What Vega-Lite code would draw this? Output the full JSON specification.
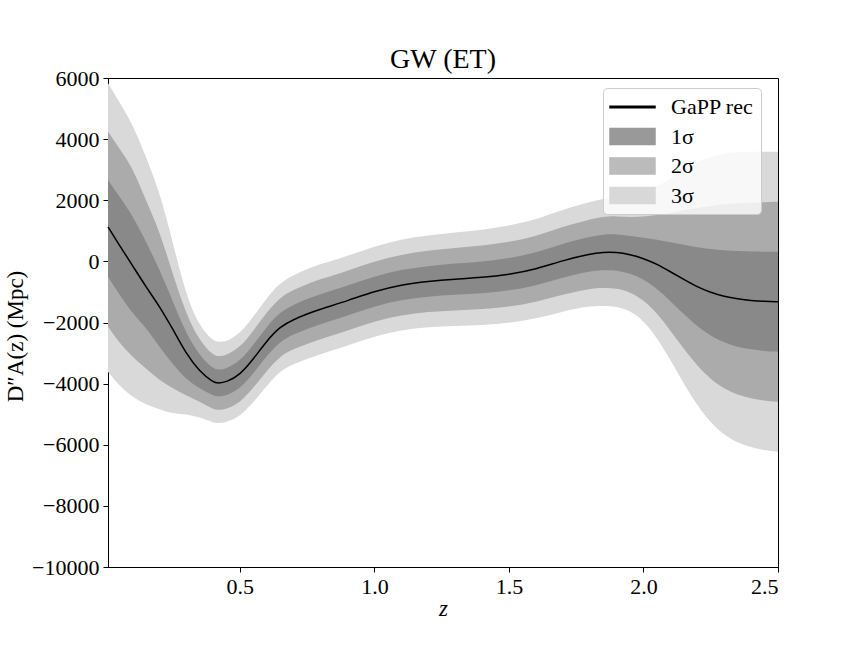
{
  "$schema": "https://vega.github.io/schema/vega-lite/v6.json",
  "width": 670,
  "height": 489,
  "autosize": {"type": "none"},
  "padding": {"left": 108, "top": 78, "right": 86, "bottom": 81},
  "background": "white",
  "title": {"text": "GW (ET)", "font": "Liberation Serif", "fontSize": 28, "fontWeight": "normal", "color": "black", "offset": -7},
  "config": {
    "view": {"stroke": "black", "strokeWidth": 1},
    "axis": {
      "labelFont": "Liberation Serif", "labelFontSize": 22, "labelColor": "black",
      "titleFont": "Liberation Serif", "titleFontSize": 23, "titleFontWeight": "normal", "titleColor": "black",
      "grid": false, "domainColor": "black", "tickColor": "black", "tickSize": 5, "labelPadding": 4
    }
  },
  "data": {
    "values": [
      {"z": 0.01, "m": 1130, "l3": -3610, "l2": -2130, "l1": -500, "h1": 2665, "h2": 4245, "h3": 5830},
      {"z": 0.05, "m": 560, "l3": -4050, "l2": -2650, "l1": -1050, "h1": 2150, "h2": 3720, "h3": 5250},
      {"z": 0.1, "m": -120, "l3": -4440, "l2": -3120, "l1": -1700, "h1": 1520, "h2": 3100, "h3": 4520},
      {"z": 0.15, "m": -820, "l3": -4680, "l2": -3500, "l1": -2150, "h1": 660, "h2": 2000, "h3": 3440},
      {"z": 0.2, "m": -1450, "l3": -4840, "l2": -3880, "l1": -2790, "h1": -230, "h2": 1030, "h3": 2330},
      {"z": 0.25, "m": -2200, "l3": -4980, "l2": -4150, "l1": -3350, "h1": -1300, "h2": -400, "h3": 650},
      {"z": 0.3, "m": -3020, "l3": -5000, "l2": -4390, "l1": -3860, "h1": -2360, "h2": -1720, "h3": -1120},
      {"z": 0.35, "m": -3600, "l3": -5100, "l2": -4580, "l1": -4150, "h1": -3080, "h2": -2600, "h3": -2120},
      {"z": 0.4, "m": -3950, "l3": -5270, "l2": -4830, "l1": -4390, "h1": -3520, "h2": -3070, "h3": -2600},
      {"z": 0.42, "m": -3990, "l3": -5300, "l2": -4870, "l1": -4430, "h1": -3550, "h2": -3110, "h3": -2640},
      {"z": 0.45, "m": -3950, "l3": -5270, "l2": -4830, "l1": -4390, "h1": -3510, "h2": -3070, "h3": -2630},
      {"z": 0.5, "m": -3720, "l3": -5080, "l2": -4630, "l1": -4170, "h1": -3270, "h2": -2820, "h3": -2370},
      {"z": 0.55, "m": -3200, "l3": -4620, "l2": -4140, "l1": -3670, "h1": -2740, "h2": -2280, "h3": -1820},
      {"z": 0.6, "m": -2600, "l3": -4070, "l2": -3580, "l1": -3090, "h1": -2130, "h2": -1660, "h3": -1190},
      {"z": 0.65, "m": -2130, "l3": -3570, "l2": -3090, "l1": -2610, "h1": -1650, "h2": -1170, "h3": -690},
      {"z": 0.7, "m": -1900, "l3": -3355, "l2": -2870, "l1": -2385, "h1": -1415, "h2": -930, "h3": -445},
      {"z": 0.75, "m": -1720, "l3": -3190, "l2": -2700, "l1": -2210, "h1": -1230, "h2": -740, "h3": -250},
      {"z": 0.8, "m": -1560, "l3": -3030, "l2": -2540, "l1": -2050, "h1": -1070, "h2": -580, "h3": -90},
      {"z": 0.9, "m": -1290, "l3": -2760, "l2": -2270, "l1": -1780, "h1": -800, "h2": -310, "h3": 180},
      {"z": 1.0, "m": -980, "l3": -2450, "l2": -1960, "l1": -1470, "h1": -490, "h2": 0, "h3": 490},
      {"z": 1.1, "m": -760, "l3": -2245, "l2": -1750, "l1": -1255, "h1": -265, "h2": 230, "h3": 725},
      {"z": 1.2, "m": -650, "l3": -2150, "l2": -1650, "l1": -1150, "h1": -150, "h2": 350, "h3": 850},
      {"z": 1.3, "m": -580, "l3": -2110, "l2": -1600, "l1": -1090, "h1": -70, "h2": 440, "h3": 950},
      {"z": 1.4, "m": -530, "l3": -2090, "l2": -1570, "l1": -1050, "h1": -10, "h2": 510, "h3": 1030},
      {"z": 1.5, "m": -430, "l3": -2020, "l2": -1490, "l1": -960, "h1": 100, "h2": 630, "h3": 1160},
      {"z": 1.6, "m": -260, "l3": -1880, "l2": -1340, "l1": -800, "h1": 280, "h2": 820, "h3": 1360},
      {"z": 1.7, "m": 30, "l3": -1635, "l2": -1080, "l1": -525, "h1": 585, "h2": 1140, "h3": 1695},
      {"z": 1.8, "m": 240, "l3": -1455, "l2": -890, "l1": -325, "h1": 805, "h2": 1370, "h3": 1935},
      {"z": 1.85, "m": 300, "l3": -1455, "l2": -870, "l1": -285, "h1": 885, "h2": 1470, "h3": 2055},
      {"z": 1.9, "m": 300, "l3": -1470, "l2": -880, "l1": -290, "h1": 890, "h2": 1480, "h3": 2080},
      {"z": 1.95, "m": 220, "l3": -1610, "l2": -1000, "l1": -390, "h1": 830, "h2": 1440, "h3": 2120},
      {"z": 2.0, "m": 100, "l3": -1940, "l2": -1260, "l1": -580, "h1": 780, "h2": 1460, "h3": 2250},
      {"z": 2.05, "m": -90, "l3": -2490, "l2": -1690, "l1": -890, "h1": 710, "h2": 1510, "h3": 2450},
      {"z": 2.1, "m": -340, "l3": -3220, "l2": -2260, "l1": -1300, "h1": 620, "h2": 1580, "h3": 2700},
      {"z": 2.15, "m": -590, "l3": -4010, "l2": -2870, "l1": -1730, "h1": 550, "h2": 1690, "h3": 3000},
      {"z": 2.2, "m": -840, "l3": -4710, "l2": -3420, "l1": -2130, "h1": 450, "h2": 1740, "h3": 3250},
      {"z": 2.25, "m": -1020, "l3": -5280, "l2": -3860, "l1": -2440, "h1": 400, "h2": 1820, "h3": 3430},
      {"z": 2.3, "m": -1150, "l3": -5680, "l2": -4170, "l1": -2660, "h1": 360, "h2": 1870, "h3": 3530},
      {"z": 2.35, "m": -1230, "l3": -5940, "l2": -4370, "l1": -2800, "h1": 340, "h2": 1910, "h3": 3570},
      {"z": 2.4, "m": -1285, "l3": -6085, "l2": -4485, "l1": -2885, "h1": 315, "h2": 1915, "h3": 3590},
      {"z": 2.45, "m": -1310, "l3": -6185, "l2": -4560, "l1": -2935, "h1": 315, "h2": 1940, "h3": 3590},
      {"z": 2.5, "m": -1320, "l3": -6230, "l2": -4595, "l1": -2955, "h1": 315, "h2": 1955, "h3": 3590}
    ]
  },
  "encoding": {
    "x": {
      "field": "z", "type": "quantitative",
      "scale": {"domain": [0.01, 2.5], "nice": false, "zero": false},
      "axis": {"values": [0.5, 1, 1.5, 2, 2.5], "format": ".1f", "title": "z", "titleFontStyle": "italic", "titlePadding": 0}
    }
  },
  "layer": [
    {
      "mark": {"type": "area", "interpolate": "basis"},
      "encoding": {
        "y": {
          "field": "l3", "type": "quantitative",
          "scale": {"domain": [-10000, 6000], "nice": false},
          "axis": {"values": [-10000, -8000, -6000, -4000, -2000, 0, 2000, 4000, 6000], "format": "d", "title": "D″A(z) (Mpc)", "titlePadding": 4, "titleY": 258}
        },
        "y2": {"field": "h3"},
        "color": {"value": "#d9d9d9"}
      }
    },
    {
      "mark": {"type": "area", "interpolate": "basis"},
      "encoding": {
        "y": {"field": "l2", "type": "quantitative"},
        "y2": {"field": "h2"},
        "color": {"value": "#ababab"}
      }
    },
    {
      "mark": {"type": "area", "interpolate": "basis"},
      "encoding": {
        "y": {"field": "l1", "type": "quantitative"},
        "y2": {"field": "h1"},
        "color": {"value": "#898989"}
      }
    },
    {
      "mark": {"type": "area", "interpolate": "basis"},
      "encoding": {
        "y": {"field": "m", "type": "quantitative"},
        "y2": {"field": "m"},
        "color": {"datum": "1σ", "type": "nominal"}
      }
    },
    {
      "mark": {"type": "area", "interpolate": "basis"},
      "encoding": {
        "y": {"field": "m", "type": "quantitative"},
        "y2": {"field": "m"},
        "color": {"datum": "2σ", "type": "nominal"}
      }
    },
    {
      "mark": {"type": "area", "interpolate": "basis"},
      "encoding": {
        "y": {"field": "m", "type": "quantitative"},
        "y2": {"field": "m"},
        "color": {"datum": "3σ", "type": "nominal"}
      }
    },
    {
      "mark": {"type": "line", "interpolate": "basis", "strokeWidth": 1.5},
      "encoding": {
        "y": {"field": "m", "type": "quantitative"},
        "color": {
          "datum": "GaPP rec", "type": "nominal",
          "scale": {"domain": ["GaPP rec", "1σ", "2σ", "3σ"], "range": ["black", "#999999", "#bbbbbb", "#d8d8d8"]},
          "legend": {
            "orient": "none", "legendX": 495, "legendY": 10, "title": null,
            "labelFont": "Liberation Serif", "labelFontSize": 22, "labelColor": "black", "labelOffset": 37,
            "symbolSize": 506, "rowPadding": 6.5, "padding": 7,
            "fillColor": "rgba(255,255,255,0.8)", "strokeColor": "#cccccc", "cornerRadius": 4,
            "encode": {
              "symbols": {
                "update": {
                  "shape": {"signal": "datum.value === 'GaPP rec' ? 'M-2,-0.07H2V0.07H-2Z' : 'M-2,-0.71H2V0.71H-2Z'"},
                  "x": {"value": 22.5},
                  "stroke": {"value": "transparent"},
                  "opacity": {"value": 1}
                }
              }
            }
          }
        }
      }
    }
  ]
}
